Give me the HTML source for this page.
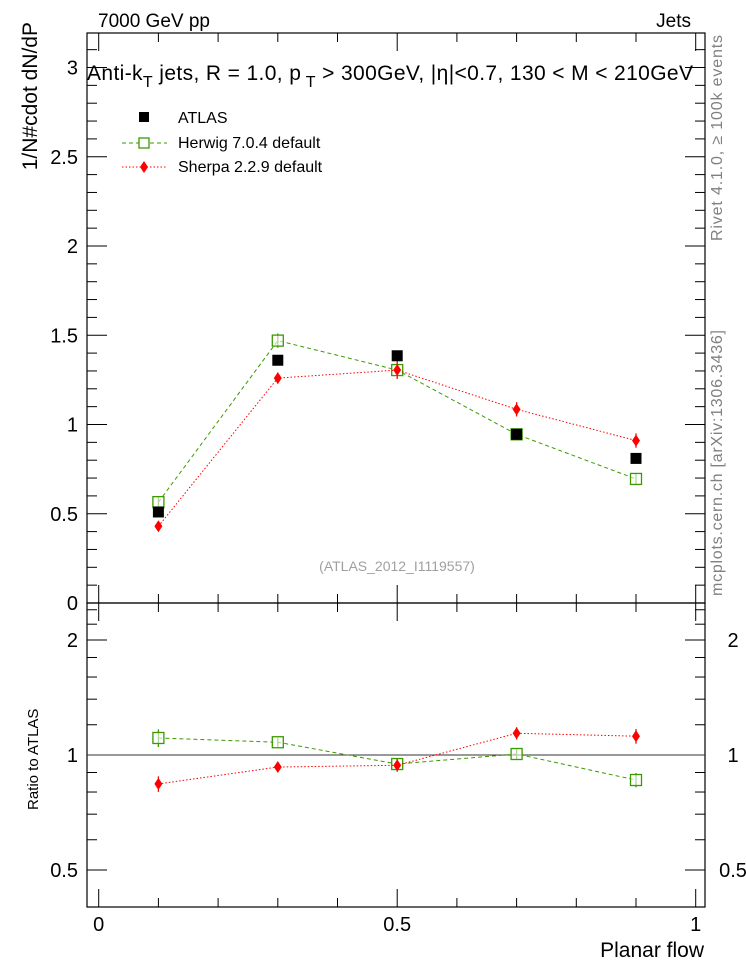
<!DOCTYPE html>
<html><head><meta charset="utf-8"><style>
body{margin:0;background:#fff}
svg{display:block;font-family:"Liberation Sans",sans-serif}
</style></head><body>
<svg id="c" width="746" height="972" viewBox="0 0 746 972">
<text x="98" y="27" font-size="19">7000 GeV pp</text>
<text x="691" y="27" font-size="19" text-anchor="end">Jets</text>
<text x="87" y="80" font-size="21" textLength="606" lengthAdjust="spacing">Anti-k<tspan dy="7" font-size="16">T</tspan><tspan dy="-7"> jets, R = 1.0, p</tspan><tspan dy="7" font-size="16"> T</tspan><tspan dy="-7"> &gt; 300GeV, |η|&lt;0.7, 130 &lt; M &lt; 210GeV</tspan></text>
<text transform="translate(37,22) rotate(-90)" font-size="21" text-anchor="end">1/N#cdot dN/dP</text>
<text transform="translate(722,35) rotate(-90)" font-size="16" fill="#808080" text-anchor="end" textLength="206">Rivet 4.1.0, ≥ 100k events</text>
<text transform="translate(722,330) rotate(-90)" font-size="16" fill="#808080" text-anchor="end" textLength="266">mcplots.cern.ch [arXiv:1306.3436]</text>
<text x="397" y="571" font-size="14" fill="#a0a0a0" text-anchor="middle">(ATLAS_2012_I1119557)</text>
<text transform="translate(38,810) rotate(-90)" font-size="15">Ratio to ATLAS</text>
<text x="704" y="957" font-size="21" text-anchor="end">Planar flow</text>
<g id="legend">
<g><rect x="139" y="112" width="10" height="10" fill="#000"/><text x="178" y="123" font-size="16">ATLAS</text></g>
<g><line x1="122" y1="143" x2="167" y2="143" stroke="#3a9a00" stroke-dasharray="4,3"/><rect x="139" y="138" width="10" height="10" fill="#fff" stroke="#3a9a00" stroke-width="1.3"/><text x="178" y="148" font-size="16">Herwig 7.0.4 default</text></g>
<g><line x1="122" y1="167" x2="167" y2="167" stroke="red" stroke-dasharray="1.5,2"/><path d="M144,161 L148,167 L144,173 L140,167Z" fill="red"/><text x="178" y="172" font-size="16">Sherpa 2.2.9 default</text></g>
</g>
</svg>
<script>
const xValues=[0.1,0.3,0.5,0.7,0.9];
const atlasValues=[0.51,1.36,1.385,0.945,0.81];
const herwigValues=[0.565,1.47,1.305,0.945,0.695];
const sherpaValues=[0.43,1.26,1.305,1.085,0.91];
const herwigErr=[0.03,0.04,0.03,0.03,0.03];
const sherpaErr=[0.02,0.03,0.05,0.04,0.04];
const herwigRatio=[1.108,1.08,0.947,1.006,0.86];
const sherpaRatio=[0.84,0.93,0.94,1.14,1.12];
const mainTicks=[0,0.5,1,1.5,2,2.5,3];
const mainTickLabels=["0","0.5","1","1.5","2","2.5","3"];
const ratioTicks=[0.5,1,2];
const ratioTickLabels=["0.5","1","2"];
const xTicks=[0,0.5,1];
const xTickLabels=["0","0.5","1"];

const NS="http://www.w3.org/2000/svg";
const svg=document.getElementById('c');
const L=87,R=705,T=33,MB=603,RB=907;
const sx=v=>98.7+v*597;
const sy=v=>603-v*178.5;
const ry=v=>755-Math.log2(v)*115;
function mk(tag,attrs,parent){const e=document.createElementNS(NS,tag);for(const k in attrs)e.setAttribute(k,attrs[k]);(parent||svg).appendChild(e);return e;}
function ln(x1,y1,x2,y2,g,extra){return mk('line',Object.assign({x1,y1,x2,y2,stroke:'#000','stroke-width':1},extra||{}),g);}

const f1=mk('rect',{x:L,y:T,width:R-L,height:MB-T,fill:'none',stroke:'#000','stroke-width':1.2});


const f2=mk('rect',{x:L,y:MB,width:R-L,height:RB-MB,fill:'none',stroke:'#000','stroke-width':1.2});



const ax=mk('g',{});


for(let i=0;i<=31;i++){const v=i*0.1;const y=sy(v);if(y<T)continue;const maj=i%5===0;const l=maj?20:10;ln(L,y,L+l,y,ax);ln(R,y,R-l,y,ax);}
mainTicks.forEach((v,i)=>{const t=mk('text',{x:L-9,y:sy(v)+7,'font-size':20,'text-anchor':'end'},ax);t.textContent=mainTickLabels[i];});
[0.4,0.5,0.6,0.7,0.8,0.9,1,1.2,1.4,1.6,1.8,2,2.2,2.4].forEach(v=>{const y=ry(v);const maj=ratioTicks.includes(v);const l=maj?20:10;ln(L,y,L+l,y,ax);ln(R,y,R-l,y,ax);});
ratioTicks.forEach((v,i)=>{const y=ry(v)+7;const t=mk('text',{x:L-9,y,'font-size':20,'text-anchor':'end'},ax);t.textContent=ratioTickLabels[i];const t2=mk('text',{x:R+28,y,'font-size':20,'text-anchor':'middle'},ax);t2.textContent=ratioTickLabels[i];});
for(let i=0;i<=10;i++){const x=sx(i*0.1);const l=i%5===0?18:9;[T,MB,RB].forEach(yy=>{if(yy!==T)ln(x,yy,x,yy-l,ax);if(yy!==RB)ln(x,yy,x,yy+l,ax);});}
xTicks.forEach((v,i)=>{const t=mk('text',{x:sx(v),y:RB+24,'font-size':20,'text-anchor':'middle'},ax);t.textContent=xTickLabels[i];});
const refl=ln(L,ry(1),R,ry(1),svg,{stroke:'#333'});



function series(vals,errs,yf,name,color,dash,marker){
  const g=mk('g',{});
  
  
  if(color){mk('polyline',{points:vals.map((v,i)=>sx(xValues[i])+','+yf(v)).join(' '),fill:'none',stroke:color,'stroke-dasharray':dash,'stroke-width':1},g);}
  vals.forEach((v,i)=>{const x=sx(xValues[i]),y=yf(v);
    if(errs){const e=errs[i];const y1=yf(v+e),y2=yf(Math.max(v-e,0.01));mk('line',{x1:x,y1,x2:x,y2,stroke:color,'stroke-width':1.3},g);}
    let m;
    if(marker==='sq')m=mk('rect',{x:x-5.5,y:y-5.5,width:11,height:11,fill:'#000'},g);
    else if(marker==='open')m=mk('rect',{x:x-5.5,y:y-5.5,width:11,height:11,fill:'#fff','fill-opacity':0.6,stroke:'#3a9a00','stroke-width':1.3},g);
    else m=mk('path',{d:`M${x},${y-6}L${x+4},${y}L${x},${y+6}L${x-4},${y}Z`,fill:'red'},g);
    
    
  });
}
series(herwigValues,herwigErr,sy,'herwig-series','#3a9a00','4,3','open');
series(sherpaValues,sherpaErr,sy,'sherpa-series','red','1.5,2','dia');
series(atlasValues,null,sy,'atlas-series',null,null,'sq');
series(herwigRatio,herwigErr.map((e,i)=>e/atlasValues[i]),ry,'herwig-ratio-series','#3a9a00','4,3','open');
series(sherpaRatio,sherpaErr.map((e,i)=>e/atlasValues[i]),ry,'sherpa-ratio-series','red','1.5,2','dia');
</script>
</body></html>
